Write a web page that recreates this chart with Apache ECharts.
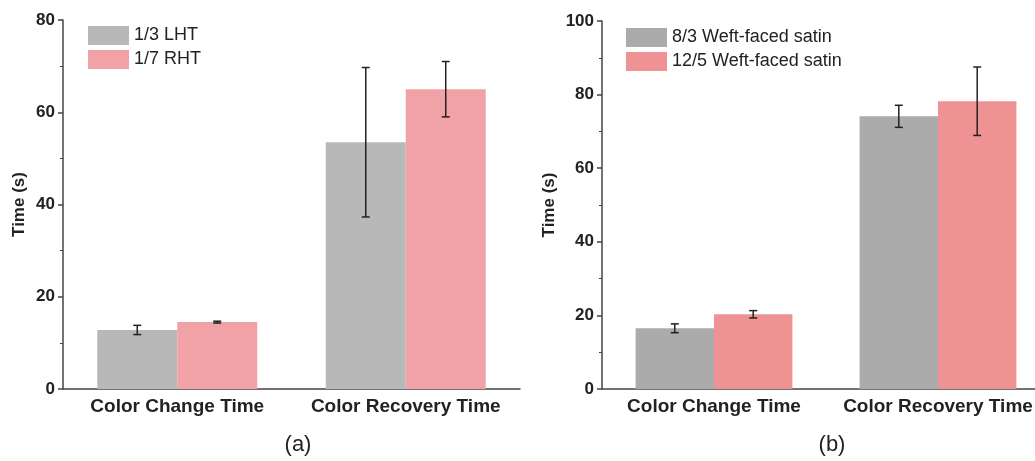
<!DOCTYPE html>
<html>
<head>
<meta charset="utf-8">
<script src="https://cdn.jsdelivr.net/npm/echarts@6/dist/echarts.min.js"></script>
<style>
  html, body { margin: 0; padding: 0; background: #fff; }
  #chart { width: 1035px; height: 461px; }
</style>
</head>
<body>
<div id="chart"></div>
<script>
var categories = ['Color Change Time', 'Color Recovery Time'];

// panel (a)
var namesA = ['1/3 LHT', '1/7 RHT'];
var lhtMean = [12.8, 53.5];
var lhtErr = [1.0, 16.2];
var rhtMean = [14.5, 65.0];
var rhtErr = [0.2, 6.0];

// panel (b)
var namesB = ['8/3 Weft-faced satin', '12/5 Weft-faced satin'];
var satin83Mean = [16.5, 74.1];
var satin83Err = [1.2, 3.0];
var satin125Mean = [20.3, 78.2];
var satin125Err = [1.0, 9.3];

var FONT = '"Liberation Sans", Arial, sans-serif';

function errData(mean, err) {
    return mean.map(function (m, i) { return [i, m - err[i], m + err[i]]; });
}

// offset: bar centre as a fraction of the category band (30% gap, 2 bars, no gap between)
function errSeries(name, axisIdx, mean, err, offset) {
    return {
        name: name,
        type: 'custom',
        xAxisIndex: axisIdx,
        yAxisIndex: axisIdx,
        silent: true,
        z: 10,
        data: errData(mean, err),
        renderItem: function (params, api) {
            var band = api.size([1, 0])[0];
            var lo = api.coord([api.value(0), api.value(1)]);
            var hi = api.coord([api.value(0), api.value(2)]);
            var x = lo[0] + offset * band;
            var cap = 4;
            var st = { stroke: '#222', lineWidth: 1.5 };
            return {
                type: 'group',
                children: [
                    { type: 'line', shape: { x1: x, y1: lo[1], x2: x, y2: hi[1] }, style: st },
                    { type: 'line', shape: { x1: x - cap, y1: lo[1], x2: x + cap, y2: lo[1] }, style: st },
                    { type: 'line', shape: { x1: x - cap, y1: hi[1], x2: x + cap, y2: hi[1] }, style: st }
                ]
            };
        }
    };
}

function xAxis(idx) {
    return {
        type: 'category',
        gridIndex: idx,
        data: categories,
        axisLine: { lineStyle: { color: '#444', width: 1.5 } },
        axisTick: { show: false },
        axisLabel: { color: '#222', fontSize: 19, fontWeight: 'bold', fontFamily: FONT, margin: 8, interval: 0 }
    };
}

function yAxis(idx, max, gap) {
    return {
        type: 'value',
        gridIndex: idx,
        min: 0,
        max: max,
        interval: 20,
        name: 'Time (s)',
        nameLocation: 'middle',
        nameGap: gap,
        nameRotate: 90,
        nameTextStyle: { color: '#222', fontSize: 17, fontWeight: 'bold', fontFamily: FONT },
        axisLine: { show: true, lineStyle: { color: '#444', width: 1.5 } },
        axisTick: { show: true, length: 5, lineStyle: { color: '#444', width: 1.5 } },
        minorTick: { show: true, splitNumber: 2, length: 3, lineStyle: { color: '#444', width: 1 } },
        splitLine: { show: false },
        axisLabel: { color: '#222', fontSize: 17, fontWeight: 'bold', fontFamily: FONT, margin: 8 }
    };
}

var chart = echarts.init(document.getElementById('chart'));

var option = {
    backgroundColor: '#fff',
    animation: false,
    grid: [
        { left: 63, top: 20, width: 457, bottom: 72, outerBoundsMode: 'none' },
        { left: 602, top: 21, width: 448, bottom: 72, outerBoundsMode: 'none' }
    ],
    legend: [{
        orient: 'vertical',
        left: 83,
        top: 21,
        icon: 'rect',
        itemWidth: 41,
        itemHeight: 19,
        itemGap: 5,
        textStyle: { color: '#222', fontSize: 18, fontFamily: FONT },
        data: namesA
    }, {
        orient: 'vertical',
        left: 621,
        top: 23,
        icon: 'rect',
        itemWidth: 41,
        itemHeight: 19,
        itemGap: 5,
        textStyle: { color: '#222', fontSize: 18, fontFamily: FONT },
        data: namesB
    }],
    title: [{
        text: '(a)',
        left: 293,
        top: 429,
        textAlign: 'center',
        textStyle: { color: '#222', fontSize: 22, fontWeight: 'normal', fontFamily: FONT }
    }, {
        text: '(b)',
        left: 827,
        top: 429,
        textAlign: 'center',
        textStyle: { color: '#222', fontSize: 22, fontWeight: 'normal', fontFamily: FONT }
    }],
    xAxis: [xAxis(0), xAxis(1)],
    yAxis: [yAxis(0, 80, 35), yAxis(1, 100, 44)],
    series: [
        {
            name: namesA[0], type: 'bar', xAxisIndex: 0, yAxisIndex: 0,
            barGap: 0, barCategoryGap: '30%',
            itemStyle: { color: '#b8b8b8' },
            data: lhtMean
        },
        {
            name: namesA[1], type: 'bar', xAxisIndex: 0, yAxisIndex: 0,
            barGap: 0, barCategoryGap: '30%',
            itemStyle: { color: '#f0a2a7' },
            data: rhtMean
        },
        {
            name: namesB[0], type: 'bar', xAxisIndex: 1, yAxisIndex: 1,
            barGap: 0, barCategoryGap: '30%',
            itemStyle: { color: '#ababab' },
            data: satin83Mean
        },
        {
            name: namesB[1], type: 'bar', xAxisIndex: 1, yAxisIndex: 1,
            barGap: 0, barCategoryGap: '30%',
            itemStyle: { color: '#ef9293' },
            data: satin125Mean
        },
        errSeries('errA0', 0, lhtMean, lhtErr, -0.175),
        errSeries('errA1', 0, rhtMean, rhtErr, 0.175),
        errSeries('errB0', 1, satin83Mean, satin83Err, -0.175),
        errSeries('errB1', 1, satin125Mean, satin125Err, 0.175)
    ]
};

chart.setOption(option);
</script>
</body>
</html>
